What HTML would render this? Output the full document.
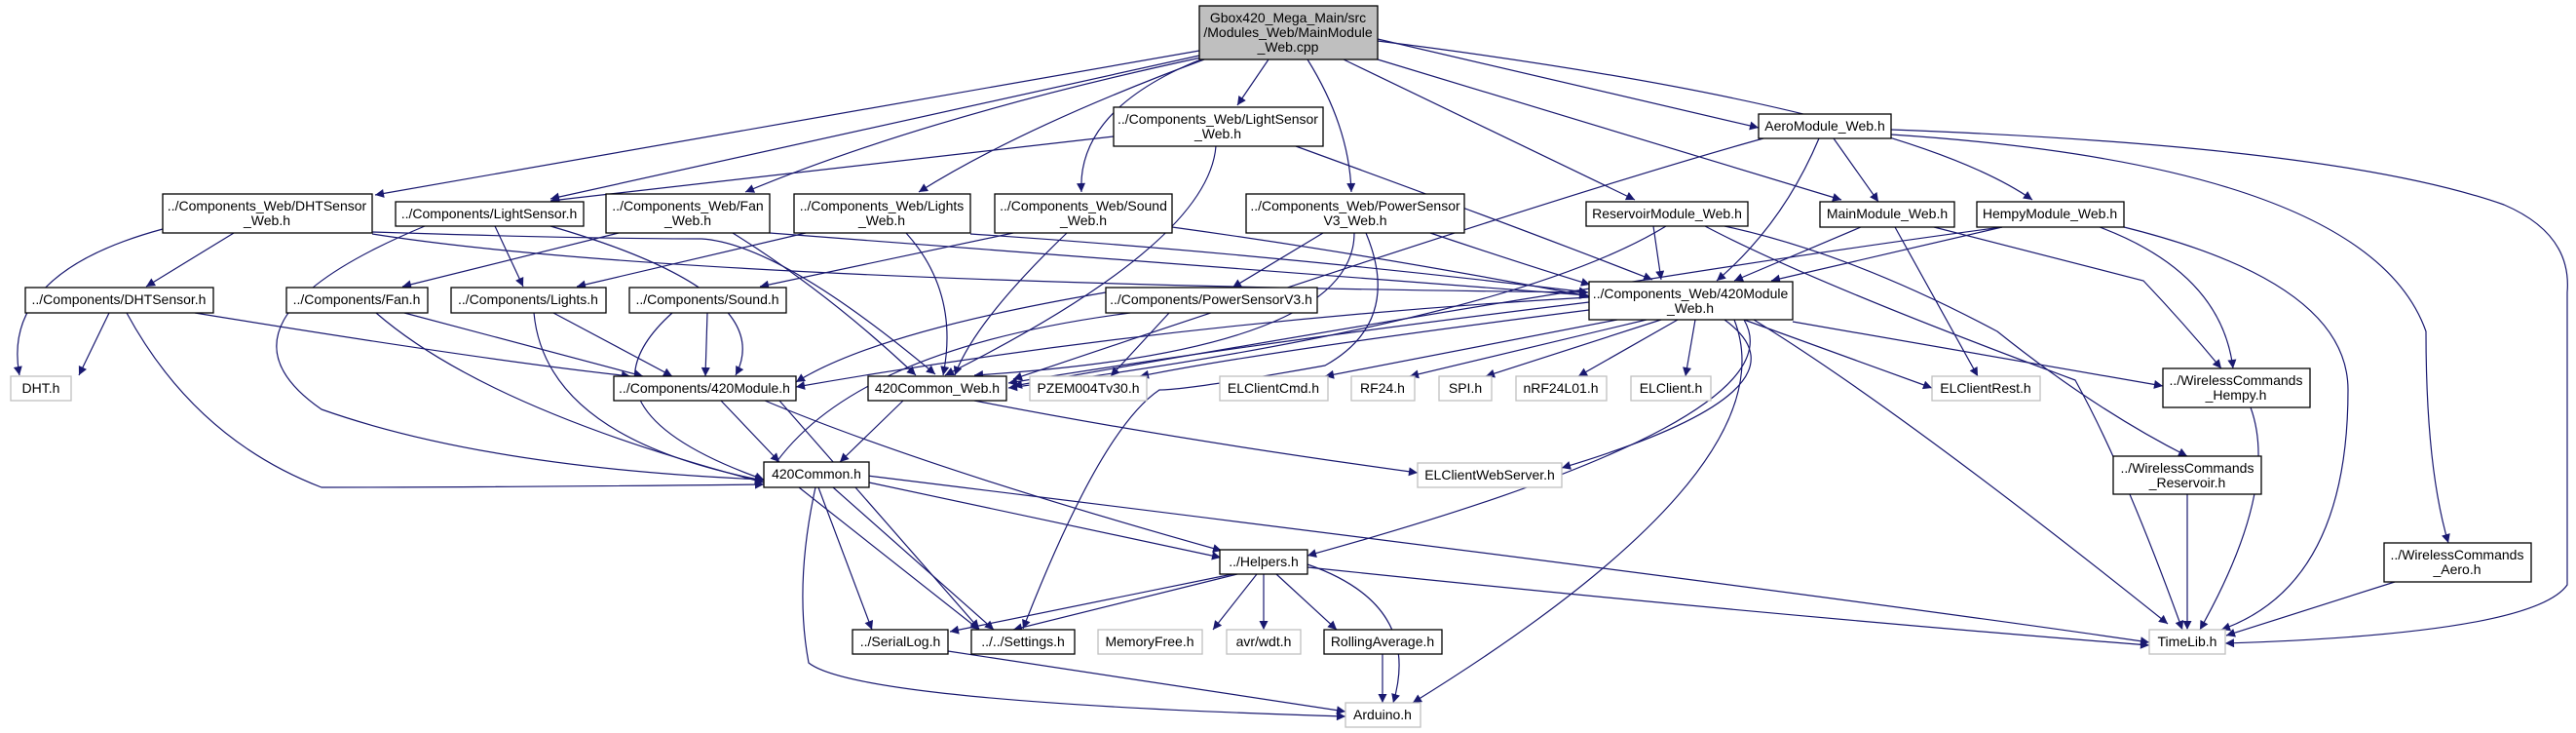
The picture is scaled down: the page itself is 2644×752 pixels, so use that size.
<!DOCTYPE html>
<html><head><meta charset="utf-8"><style>
html,body{margin:0;padding:0;background:#fff;}
svg{display:block}
text{font-family:"Liberation Sans",sans-serif;font-size:14px;fill:#000;text-anchor:middle;}
.n{fill:#fff;stroke:#000;stroke-width:1.3}
.g{fill:#fff;stroke:#bfbfbf;stroke-width:1.3}
.e{fill:none;stroke:#191970;stroke-width:1.2}
</style></head><body>
<svg width="2644" height="752" viewBox="0 0 2644 752" xmlns="http://www.w3.org/2000/svg">
<defs><marker id="a" viewBox="0 0 10 10" refX="10" refY="5" markerWidth="11" markerHeight="9" markerUnits="userSpaceOnUse" orient="auto"><path d="M0,0L10,5L0,10z" fill="#191970"/></marker></defs>
<g class="e" marker-end="url(#a)">
<!-- main -->
<path d="M1231,52 L385,200"/>
<path d="M1231,57 Q900,130 565,204"/>
<path d="M1233,59 Q950,120 765,197"/>
<path d="M1236,61 Q1050,130 943,197"/>
<path d="M1240,58 Q1105,110 1110,197"/>
<path d="M1302,61 L1270,108"/>
<path d="M1342,61 Q1385,130 1387,197"/>
<path d="M1379,61 L1678,205"/>
<path d="M1414,40 L1805,131"/>
<path d="M1414,61 L1890,205"/>
<path d="M1414,42 Q1950,110 2086,205"/>
<!-- LightSensor_Web -->
<path d="M1143,140 Q800,180 565,206"/>
<path d="M1330,150 Q1550,230 1696,287"/>
<path d="M1248,150 Q1240,250 970,385"/>
<!-- DHTSensor_Web -->
<path d="M167,235 Q0,280 20,385"/>
<path d="M240,239 L150,294"/>
<path d="M382,240 Q700,290 1630,300"/>
<path d="M382,238 Q600,245 720,245 Q800,250 960,384"/>
<!-- LightSensor.h -->
<path d="M508,232 L537,294"/>
<path d="M565,232 Q800,300 755,385"/>
<path d="M436,232 Q200,330 330,420 Q500,480 784,492"/>
<!-- Fan_Web -->
<path d="M635,239 L413,294"/>
<path d="M752,239 Q850,300 940,385"/>
<path d="M790,239 Q1200,270 1630,303"/>
<!-- Lights_Web -->
<path d="M827,239 L592,294"/>
<path d="M930,239 Q985,300 968,385"/>
<path d="M996,240 Q1300,260 1630,300"/>
<!-- Sound_Web -->
<path d="M1040,239 L780,294"/>
<path d="M1095,239 Q1000,330 980,385"/>
<path d="M1203,233 Q1400,260 1631,304"/>
<!-- PowerSensorV3_Web -->
<path d="M1358,239 L1265,295"/>
<path d="M1468,239 Q1560,270 1632,292"/>
<path d="M1390,239 Q1390,360 1000,385"/>
<path d="M1402,239 Q1440,330 1360,375 Q1220,400 1190,400 Q1130,440 1050,645"/>
<!-- row3 -->
<path d="M112,321 L81,385"/>
<path d="M130,321 Q200,450 330,500 Q500,500 784,497"/>
<path d="M200,321 Q500,370 647,386"/>
<path d="M386,321 Q500,420 784,495"/>
<path d="M415,321 L660,386"/>
<path d="M548,321 Q560,450 784,493"/>
<path d="M568,321 L690,386"/>
<path d="M690,321 Q580,420 784,492"/>
<path d="M726,321 L724,386"/>
<path d="M1135,300 Q900,340 817,392"/>
<path d="M1160,321 Q860,360 784,494"/>
<path d="M1200,321 L1140,386"/>
<!-- 420Module.h -->
<path d="M740,411 L800,474"/>
<path d="M785,411 Q950,480 1254,565"/>
<path d="M800,411 Q860,480 1005,645"/>
<!-- 420Common_Web -->
<path d="M927,411 L862,474"/>
<path d="M1000,411 Q1200,450 1455,485"/>
<!-- 420Module_Web -->
<path d="M1631,305 Q1200,330 817,397"/>
<path d="M1631,310 Q1300,350 1035,393"/>
<path d="M1631,318 Q1300,360 1170,386"/>
<path d="M1660,328 L1360,386"/>
<path d="M1690,328 L1447,386"/>
<path d="M1705,328 L1525,386"/>
<path d="M1722,328 L1620,386"/>
<path d="M1740,328 L1730,386"/>
<path d="M1770,328 Q1870,400 1603,480"/>
<path d="M1790,328 Q1850,430 1342,570"/>
<path d="M1780,328 Q1840,480 1450,721"/>
<path d="M1800,328 Q1950,420 2225,640"/>
<path d="M1790,328 L1983,398"/>
<path d="M1840,330 L2220,396"/>
<!-- Reservoir -->
<path d="M1710,232 Q1550,330 1035,398"/>
<path d="M1697,232 L1705,287"/>
<path d="M1770,232 Q1900,260 2050,340 Q2150,420 2245,468"/>
<path d="M1750,232 Q1860,290 2130,390 Q2180,480 2240,646"/>
<!-- Aero -->
<path d="M1867,142 Q1830,230 1762,288"/>
<path d="M1882,142 L1928,207"/>
<path d="M1810,142 Q1600,200 1040,389"/>
<path d="M1941,138 Q2430,170 2490,340 Q2490,480 2513,557"/>
<path d="M1941,133 Q2400,150 2570,210 Q2640,240 2635,300 L2635,600 Q2600,650 2284,660"/>
<!-- MainModule -->
<path d="M1910,233 L1780,288"/>
<path d="M1945,233 L2030,386"/>
<path d="M1985,233 L2200,288 Q2240,330 2280,378"/>
<!-- Hempy -->
<path d="M2055,233 L1818,288"/>
<path d="M2055,233 Q1700,280 1040,396"/>
<path d="M2155,233 Q2280,280 2292,378"/>
<path d="M2180,233 Q2410,290 2410,400 Q2410,600 2280,646"/>
<!-- WC -->
<path d="M2310,418 Q2340,500 2258,646"/>
<path d="M2245,507 L2245,646"/>
<path d="M2458,597 L2285,652"/>
<!-- 420Common.h -->
<path d="M840,500 L895,646"/>
<path d="M855,500 L1020,646"/>
<path d="M820,500 L1005,646"/>
<path d="M890,488 Q1800,600 2206,659"/>
<path d="M892,495 L1253,572"/>
<path d="M837,500 Q815,600 830,680 Q880,720 1381,735"/>
<!-- Helpers -->
<path d="M1265,589 L975,648"/>
<path d="M1270,589 L1040,646"/>
<path d="M1290,589 L1245,646"/>
<path d="M1297,589 L1297,646"/>
<path d="M1310,589 L1372,646"/>
<path d="M1342,579 Q1460,620 1430,721"/>
<path d="M1342,582 Q1800,630 2206,662"/>
<!-- bottom -->
<path d="M973,668 L1381,730"/>
<path d="M1419,671 L1419,721"/>
</g>
<!-- nodes -->
<rect x="1231" y="6" width="183" height="55" fill="#bfbfbf" stroke="#000" stroke-width="1.3"/>
<text x="1322" y="23">Gbox420_Mega_Main/src</text><text x="1322" y="38">/Modules_Web/MainModule</text><text x="1322" y="53">_Web.cpp</text>
<rect class="n" x="1143" y="110" width="215" height="40"/><text x="1250" y="127">../Components_Web/LightSensor</text><text x="1250" y="142">_Web.h</text>
<rect class="n" x="1805" y="117" width="136" height="25"/><text x="1873" y="134">AeroModule_Web.h</text>
<rect class="n" x="167" y="199" width="215" height="40"/><text x="274" y="216">../Components_Web/DHTSensor</text><text x="274" y="231">_Web.h</text>
<rect class="n" x="406" y="207" width="193" height="25"/><text x="502" y="224">../Components/LightSensor.h</text>
<rect class="n" x="622" y="199" width="168" height="40"/><text x="706" y="216">../Components_Web/Fan</text><text x="706" y="231">_Web.h</text>
<rect class="n" x="815" y="199" width="181" height="40"/><text x="905" y="216">../Components_Web/Lights</text><text x="905" y="231">_Web.h</text>
<rect class="n" x="1021" y="199" width="182" height="40"/><text x="1112" y="216">../Components_Web/Sound</text><text x="1112" y="231">_Web.h</text>
<rect class="n" x="1279" y="199" width="224" height="40"/><text x="1391" y="216">../Components_Web/PowerSensor</text><text x="1391" y="231">V3_Web.h</text>
<rect class="n" x="1628" y="207" width="166" height="25"/><text x="1711" y="224">ReservoirModule_Web.h</text>
<rect class="n" x="1868" y="207" width="138" height="26"/><text x="1937" y="224">MainModule_Web.h</text>
<rect class="n" x="2029" y="207" width="151" height="26"/><text x="2104" y="224">HempyModule_Web.h</text>
<rect class="n" x="26" y="295" width="193" height="26"/><text x="122" y="312">../Components/DHTSensor.h</text>
<rect class="n" x="294" y="295" width="145" height="26"/><text x="366" y="312">../Components/Fan.h</text>
<rect class="n" x="463" y="295" width="159" height="26"/><text x="542" y="312">../Components/Lights.h</text>
<rect class="n" x="646" y="295" width="161" height="26"/><text x="726" y="312">../Components/Sound.h</text>
<rect class="n" x="1135" y="295" width="217" height="26"/><text x="1243" y="312">../Components/PowerSensorV3.h</text>
<rect class="n" x="1631" y="289" width="209" height="39"/><text x="1735" y="306">../Components_Web/420Module</text><text x="1735" y="321">_Web.h</text>
<rect class="g" x="11" y="386" width="62" height="25"/><text x="42" y="403">DHT.h</text>
<rect class="n" x="630" y="386" width="187" height="25"/><text x="723" y="403">../Components/420Module.h</text>
<rect class="n" x="891" y="386" width="142" height="25"/><text x="962" y="403">420Common_Web.h</text>
<rect class="g" x="1057" y="386" width="120" height="25"/><text x="1117" y="403">PZEM004Tv30.h</text>
<rect class="g" x="1252" y="386" width="111" height="25"/><text x="1307" y="403">ELClientCmd.h</text>
<rect class="g" x="1387" y="386" width="65" height="25"/><text x="1419" y="403">RF24.h</text>
<rect class="g" x="1477" y="386" width="54" height="25"/><text x="1504" y="403">SPI.h</text>
<rect class="g" x="1556" y="386" width="93" height="25"/><text x="1602" y="403">nRF24L01.h</text>
<rect class="g" x="1674" y="386" width="82" height="25"/><text x="1715" y="403">ELClient.h</text>
<rect class="g" x="1983" y="386" width="111" height="25"/><text x="2038" y="403">ELClientRest.h</text>
<rect class="n" x="2220" y="378" width="151" height="40"/><text x="2295" y="395">../WirelessCommands</text><text x="2295" y="410">_Hempy.h</text>
<rect class="n" x="784" y="474" width="108" height="26"/><text x="838" y="491">420Common.h</text>
<rect class="g" x="1455" y="475" width="148" height="25"/><text x="1529" y="492">ELClientWebServer.h</text>
<rect class="n" x="2169" y="468" width="152" height="39"/><text x="2245" y="485">../WirelessCommands</text><text x="2245" y="500">_Reservoir.h</text>
<rect class="n" x="1252" y="564" width="90" height="25"/><text x="1297" y="581">../Helpers.h</text>
<rect class="n" x="2447" y="557" width="151" height="40"/><text x="2522" y="574">../WirelessCommands</text><text x="2522" y="589">_Aero.h</text>
<rect class="n" x="875" y="646" width="98" height="25"/><text x="924" y="663">../SerialLog.h</text>
<rect class="n" x="997" y="646" width="106" height="25"/><text x="1050" y="663">../../Settings.h</text>
<rect class="g" x="1127" y="646" width="107" height="25"/><text x="1180" y="663">MemoryFree.h</text>
<rect class="g" x="1259" y="646" width="76" height="25"/><text x="1297" y="663">avr/wdt.h</text>
<rect class="n" x="1359" y="646" width="121" height="25"/><text x="1419" y="663">RollingAverage.h</text>
<rect class="g" x="2206" y="646" width="78" height="25"/><text x="2245" y="663">TimeLib.h</text>
<rect class="g" x="1381" y="721" width="77" height="25"/><text x="1419" y="738">Arduino.h</text>
</svg>
</body></html>
